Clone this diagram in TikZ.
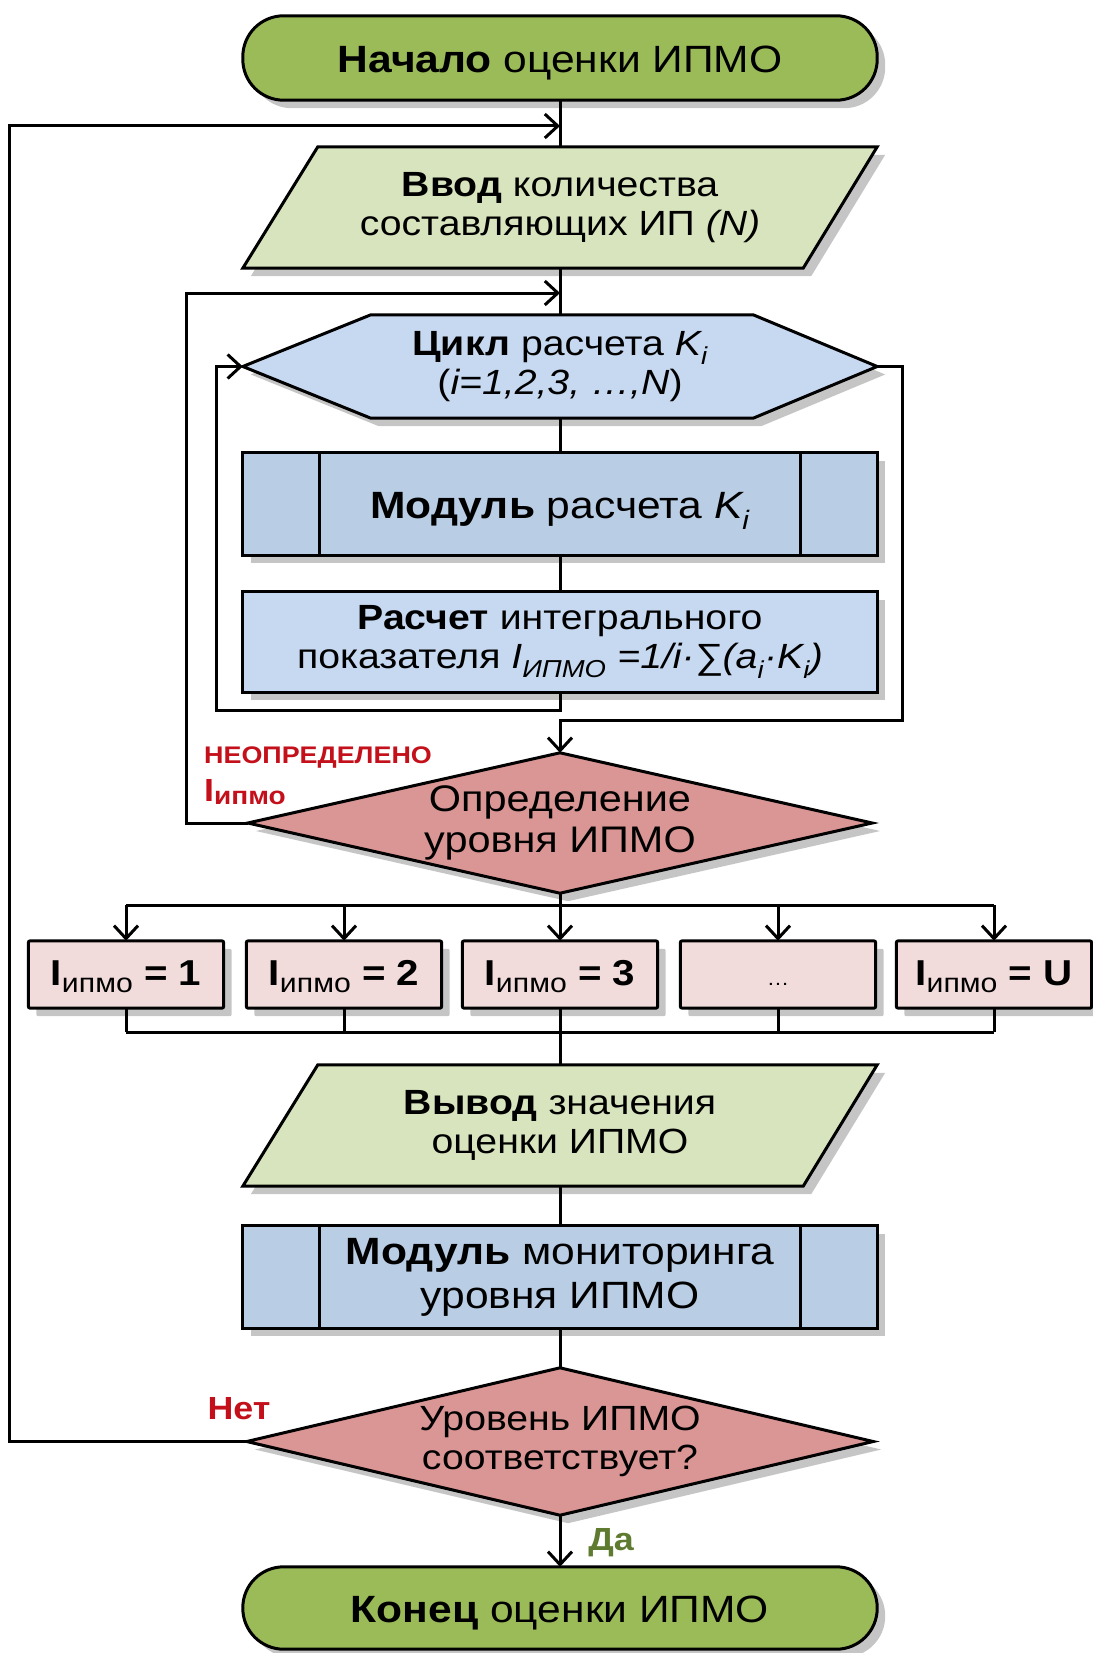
\documentclass[tikz,border=0pt]{standalone}
\usepackage{fontspec}
\setmainfont{Liberation Sans}[FakeStretch=1.12]
\usetikzlibrary{arrows.meta,shadows}
\definecolor{termgreen}{HTML}{9BBB59}
\definecolor{ingreen}{HTML}{D7E4BD}
\definecolor{hexblue}{HTML}{C6D9F1}
\definecolor{modblue}{HTML}{B9CDE5}
\definecolor{calcblue}{HTML}{C6D9F1}
\definecolor{decpink}{HTML}{D99694}
\definecolor{respink}{HTML}{F2DCDB}
\definecolor{labred}{HTML}{C3101A}
\definecolor{labgreen}{HTML}{5F7B2F}
\pgfdeclarelayer{bg}
\pgfsetlayers{bg,main}
\newcommand\mainsize{\fontsize{35}{39}\selectfont}
\newcommand\bigsize{\fontsize{38}{44}\selectfont}
\newcommand\labsize{\fontsize{24}{30}\selectfont}
\newcommand\ynsize{\fontsize{32}{36}\selectfont}
\newcommand\boxipmo{\textbf{I}\raisebox{-0.2em}{\fontsize{27}{27}\selectfont ипмо}}
\newcommand\labipmo{{\fontsize{32}{32}\selectfont I}\raisebox{-0.12em}{\fontsize{25}{25}\selectfont ипмо}}
\begin{document}
\begin{tikzpicture}[x=1pt,y=-1pt,
  conn/.style={line width=3pt, draw=black},
  arr/.style={conn, -{Straight Barb[length=13pt,width=24pt,line width=3pt]}},
  txt/.style={shape=rectangle, inner sep=0pt, align=center, font=\mainsize, text=black},
  oneline/.style={text height=29pt, text depth=0pt},
  shapeline/.style={line width=3pt, draw=black, line join=miter,
    drop shadow={shadow xshift=8pt, shadow yshift=-8pt, fill=black!45, opacity=0.5}},
  lab/.style={font=\labsize\bfseries, text=labred, inner sep=0pt, anchor=west},
]
\useasboundingbox (0,0) rectangle (1092,1653);

% ---------- nodes (text) ----------
\node[txt, oneline, font=\bigsize, minimum width=634pt, minimum height=84pt] (start) at (560,58)
  {\textbf{Начало} оценки ИПМО};
\node[txt, minimum width=634pt, minimum height=121pt] (input) at (560,207.5)
  {\textbf{Ввод} количества\\составляющих ИП \textit{(N)}};
\node[txt, minimum width=634pt, minimum height=103pt] (loop) at (560,366.5)
  {\textbf{Цикл} расчета \textit{K\textsubscript{i}}\\(\textit{i=1,2,3, …,N})};
\node[txt, oneline, font=\bigsize, minimum width=634pt, minimum height=102pt] (mod1) at (560,504)
  {\textbf{Модуль} расчета \textit{K\textsubscript{i}}};
\node[txt, minimum width=634pt, minimum height=100pt] (calc) at (560,642)
  {\textbf{Расчет} интегрального\\показателя \textit{I\textsubscript{ИПМО} =1/i·∑(a\textsubscript{i}·K\textsubscript{i})}};
\node[txt, font=\fontsize{37}{41}\selectfont, minimum width=624pt, minimum height=140pt] (dec) at (560,823)
  {Определение\\уровня ИПМО};
\foreach \i/\x/\t in {1/126/\boxipmo\textbf{ = 1},
                      2/344/\boxipmo\textbf{ = 2},
                      3/560/\boxipmo\textbf{ = 3},
                      4/778/{\fontsize{20}{24}\selectfont …},
                      5/994/\boxipmo\textbf{ = U}}
  \node[txt, font=\fontsize{36}{40}\selectfont, text height=26pt, text depth=4pt, minimum width=195pt, minimum height=67pt] (res\i) at (\x,974.5) {\t};
\node[txt, minimum width=634pt, minimum height=121pt] (out) at (560,1125.5)
  {\textbf{Вывод} значения\\оценки ИПМО};
\node[txt, font=\bigsize, minimum width=634pt, minimum height=102pt] (mon) at (560,1277)
  {\textbf{Модуль} мониторинга\\уровня ИПМО};
\node[txt, minimum width=626pt, minimum height=147pt] (check) at (560,1441.5)
  {Уровень ИПМО\\соответствует?};
\node[txt, oneline, font=\bigsize, minimum width=634pt, minimum height=82pt] (end) at (560,1608)
  {\textbf{Конец} оценки ИПМО};

% labels
\node[lab] (undef) at (204,758) {НЕОПРЕДЕЛЕНО};
\node[lab] (undefI) at (204,792) {\labipmo};
\node[font=\ynsize\bfseries, text=labred, inner sep=0pt] (no) at (239,1409) {Нет};
\node[font=\ynsize\bfseries, text=labgreen, inner sep=0pt] (yes) at (611,1543) {Да};

% ---------- shapes ----------
\begin{pgfonlayer}{bg}
\foreach \n in {start,end}
  \draw[shapeline, fill=termgreen, rounded corners=40.9pt] (\n.north west) rectangle (\n.south east);
\foreach \n in {input,out}
  \draw[shapeline, fill=ingreen] ([shift={(75,0)}]\n.north west) -- (\n.north east)
     -- ([shift={(-74,0)}]\n.south east) -- (\n.south west) -- cycle;
\draw[shapeline, fill=hexblue] (loop.west) -- ([shift={(128,0)}]loop.north west)
   -- ([shift={(-124,0)}]loop.north east) -- (loop.east)
   -- ([shift={(-124,0)}]loop.south east) -- ([shift={(128,0)}]loop.south west) -- cycle;
\foreach \n in {mod1,mon}{
  \draw[shapeline, fill=modblue] (\n.north west) rectangle (\n.south east);
  \draw[line width=3pt] ([shift={(77,0)}]\n.north west) -- ([shift={(77,0)}]\n.south west);
  \draw[line width=3pt] ([shift={(-77,0)}]\n.north east) -- ([shift={(-77,0)}]\n.south east);
}
\draw[shapeline, fill=calcblue] (calc.north west) rectangle (calc.south east);
\foreach \n in {dec,check}
  \draw[shapeline, fill=decpink] (\n.west) -- (\n.north) -- (\n.east) -- (\n.south) -- cycle;
\foreach \i in {1,...,5}
  \draw[shapeline, fill=respink, rounded corners=2pt] (res\i.north west) rectangle (res\i.south east);
\end{pgfonlayer}

% ---------- connectors ----------
\coordinate (j1) at (560,126);
\coordinate (j2) at (560,293);
\coordinate (r1) at (560,720);
\coordinate (b1) at (560,905);
\coordinate (b2) at (560,1032);
\draw[conn] (start.south) -- (input.north);
\draw[arr] (check.west) -- ++(-237,0) |- (j1);
\draw[conn] (input.south) -- (loop.north);
\draw[arr] (dec.west) -- ++(-61,0) |- (j2);
\draw[conn] (loop.south) -- (mod1.north);
\draw[conn] (mod1.south) -- (calc.north);
\draw[arr] (calc.south) -- ++(0,18) -| ([shift={(-26,0)}]loop.west) -- (loop.west);
\draw[arr] (loop.east) -- ++(25,0) |- (r1) -- (dec.north);
\draw[conn] (dec.south) -- (b1);
\draw[conn] (res1.north |- b1) -- (res5.north |- b1);
\foreach \i in {1,...,5}{
  \draw[arr] (res\i.north |- b1) -- (res\i.north);
  \draw[conn] (res\i.south) -- (res\i.south |- b2);
}
\draw[conn] (res1.south |- b2) -- (res5.south |- b2);
\draw[conn] (b2) -- (out.north);
\draw[conn] (out.south) -- (mon.north);
\draw[conn] (mon.south) -- (check.north);
\draw[arr] (check.south) -- (end.north);
\end{tikzpicture}
\end{document}
